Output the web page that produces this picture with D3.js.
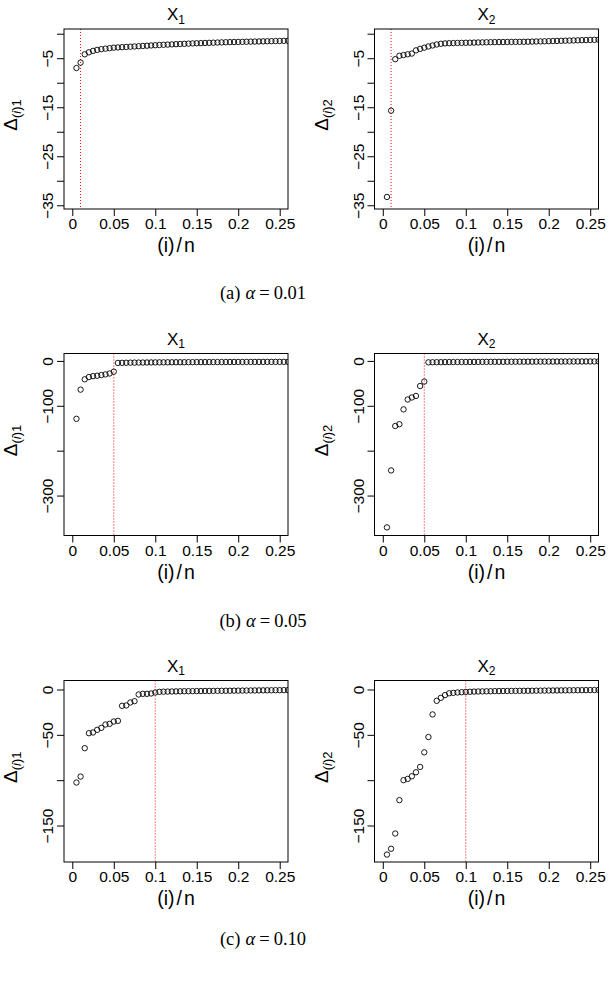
<!DOCTYPE html>
<html>
<head>
<meta charset="utf-8">
<script src="https://cdn.jsdelivr.net/npm/d3@7"></script>
<style>
  body { margin: 0; background: #fff; }
  svg { display: block; font-family: "Liberation Sans", Arial, Helvetica, sans-serif; }
</style>
</head>
<body>
<script>
// ---- data ----
var n = 200;
var ranks = d3.range(1, 53);            // (i) = 1..52, plotted at (i)/n
var xLim = [0, 0.25];
var xTicks = [0, 0.05, 0.1, 0.15, 0.2, 0.25];
var xTickLabels = ['0', '0.05', '0.1', '0.15', '0.2', '0.25'];

var alphas = [0.01, 0.05, 0.10];
var captionLetters = ['a', 'b', 'c'];
var alphaLabels = ['0.01', '0.05', '0.10'];
var varNames = ['1', '2'];

var yLims = [[-34.4, -0.4], [-374, 1.5], [-182.8, 2.5]];
var yTicks = [
  [0, -5, -10, -15, -20, -25, -30, -35],
  [0, -100, -200, -300],
  [0, -50, -100, -150]
];
var yTickLabelled = [
  [-5, -15, -25, -35],
  [0, -100, -300],
  [0, -50, -150]
];

// alpha = 0.01
var deltaA1 = [-7.0, -5.9, -4.2, -3.8, -3.5, -3.3, -3.15, -3.05, -2.95, -2.85,
  -2.8, -2.75, -2.7, -2.65, -2.6, -2.55, -2.5, -2.45, -2.4, -2.35,
  -2.3, -2.26, -2.22, -2.18, -2.14, -2.1, -2.06, -2.02, -1.98, -1.95,
  -1.92, -1.89, -1.86, -1.83, -1.8, -1.77, -1.74, -1.72, -1.7, -1.68,
  -1.66, -1.64, -1.62, -1.6, -1.58, -1.56, -1.54, -1.52, -1.5, -1.48,
  -1.46, -1.44];
var deltaA2 = [-33.3, -15.7, -5.2, -4.5, -4.35, -4.2, -4.05, -3.4, -3.1, -2.85,
  -2.6, -2.4, -2.2, -2.05, -1.98, -1.94, -1.91, -1.89, -1.87, -1.85,
  -1.83, -1.81, -1.79, -1.77, -1.75, -1.73, -1.72, -1.71, -1.7, -1.69,
  -1.68, -1.67, -1.66, -1.65, -1.63, -1.61, -1.59, -1.57, -1.55, -1.52,
  -1.5, -1.47, -1.45, -1.42, -1.4, -1.37, -1.35, -1.32, -1.3, -1.27,
  -1.25, -1.22];

// alpha = 0.05
var deltaB1 = [-129, -64, -41, -36, -34, -33, -31.5, -30, -28, -24,
  -4.5, -4.3, -4.1, -3.9, -3.8, -3.7, -3.6, -3.5, -3.4, -3.3,
  -3.2, -3.15, -3.1, -3.05, -3.0, -2.95, -2.9, -2.85, -2.8, -2.75,
  -2.7, -2.66, -2.62, -2.58, -2.54, -2.5, -2.47, -2.44, -2.41, -2.38,
  -2.35, -2.32, -2.29, -2.26, -2.23, -2.2, -2.18, -2.16, -2.14, -2.12,
  -2.1, -2.08];
var deltaB2 = [-371, -244, -145, -141, -108, -86, -81.5, -78, -56, -46,
  -3.2, -3.0, -2.9, -2.8, -2.7, -2.6, -2.5, -2.45, -2.4, -2.35,
  -2.3, -2.25, -2.2, -2.15, -2.1, -2.05, -2.0, -1.96, -1.92, -1.88,
  -1.84, -1.8, -1.76, -1.72, -1.68, -1.64, -1.6, -1.57, -1.54, -1.51,
  -1.48, -1.45, -1.42, -1.39, -1.36, -1.33, -1.3, -1.28, -1.26, -1.24,
  -1.22, -1.2];

// alpha = 0.10
var deltaC1 = [-102.6, -96, -64.7, -48.2, -47.4, -44.5, -42.3, -38.6, -37.9, -35.3,
  -34.6, -18, -17.6, -14.3, -12.9, -5.5, -4.8, -4.8, -4.4, -3.3,
  -2.6, -2.4, -2.3, -2.2, -2.1, -2.0, -1.9, -1.85, -1.8, -1.75,
  -1.7, -1.65, -1.6, -1.55, -1.5, -1.45, -1.4, -1.35, -1.3, -1.25,
  -1.2, -1.15, -1.1, -1.05, -1.0, -0.95, -0.9, -0.85, -0.8, -0.75,
  -0.7, -0.65];
var deltaC2 = [-182, -175.6, -158.8, -122, -100, -98.6, -95.7, -91.3, -85.4, -69.3,
  -52.4, -27.5, -12.5, -9.2, -6.2, -4.2, -3.7, -3.3, -3.0, -2.7,
  -2.5, -2.3, -2.2, -2.1, -2.0, -1.9, -1.8, -1.75, -1.7, -1.65,
  -1.6, -1.55, -1.5, -1.45, -1.4, -1.35, -1.3, -1.25, -1.2, -1.15,
  -1.1, -1.05, -1.0, -0.95, -0.9, -0.85, -0.8, -0.75, -0.7, -0.65,
  -0.6, -0.55];

var series = [[deltaA1, deltaA2], [deltaB1, deltaB2], [deltaC1, deltaC2]];

// ---- layout ----
var config = {
  width: 611,
  height: 982,
  cols: [[64, 288], [374.5, 598.5]],
  rows: [[29, 209], [353.5, 535.5], [680.5, 862]],
  captionY: [299, 627, 945],
  captionX: 263,
  tick: 7,
  radius: 2.7,
  tickFont: 15.5
};

// R style axis extension (4% each side)
function rExtend(lim) {
  var r = lim[1] - lim[0];
  return [lim[0] - 0.04 * r, lim[1] + 0.04 * r];
}

var minus = function(v) { return String(v).replace('-', '\u2212'); };

var svg = d3.select('body')
  .append('svg')
  .attr('width', config.width)
  .attr('height', config.height);

series.forEach(function(rowSeries, r) {
  var top = config.rows[r][0],
      bottom = config.rows[r][1];

  rowSeries.forEach(function(values, c) {
    var left = config.cols[c][0],
        right = config.cols[c][1];

    var x = d3.scaleLinear().domain(rExtend(xLim)).range([left, right]);
    var y = d3.scaleLinear().domain(rExtend(yLims[r])).range([bottom, top]);

    var g = svg.append('g');
    var clipId = 'clip-' + r + '-' + c;

    g.append('clipPath')
      .attr('id', clipId)
      .append('rect')
      .attr('x', left)
      .attr('y', top)
      .attr('width', right - left)
      .attr('height', bottom - top);

    // Alpha cut-off line
    g.append('line')
      .attr('x1', x(alphas[r]))
      .attr('x2', x(alphas[r]))
      .attr('y1', top)
      .attr('y2', bottom)
      .attr('stroke', '#ff0000')
      .attr('stroke-width', 1)
      .attr('stroke-dasharray', '1,2');

    // Points
    g.append('g')
      .attr('clip-path', 'url(#' + clipId + ')')
      .selectAll('circle')
      .data(values)
      .enter()
      .append('circle')
      .attr('cx', function(d, i) { return x(ranks[i] / n); })
      .attr('cy', function(d) { return y(d); })
      .attr('r', config.radius)
      .attr('fill', 'none')
      .attr('stroke', '#000')
      .attr('stroke-width', 0.9);

    // Box
    g.append('rect')
      .attr('x', left)
      .attr('y', top)
      .attr('width', right - left)
      .attr('height', bottom - top)
      .attr('fill', 'none')
      .attr('stroke', '#000')
      .attr('stroke-width', 1);

    // X axis
    var xAxis = d3.axisBottom(x)
      .tickValues(xTicks)
      .tickSize(config.tick)
      .tickPadding(2)
      .tickFormat(function(d, i) { return xTickLabels[i]; });

    var xg = g.append('g')
      .attr('transform', 'translate(0,' + bottom + ')')
      .call(xAxis);
    xg.select('.domain').remove();
    xg.selectAll('line').attr('stroke', '#000');
    xg.selectAll('text')
      .attr('fill', '#000')
      .attr('font-size', config.tickFont)
      .attr('font-family', '"Liberation Sans", Arial, sans-serif');

    // Y axis
    var yAxis = d3.axisLeft(y)
      .tickValues(yTicks[r])
      .tickSize(config.tick)
      .tickFormat(function(d) {
        return yTickLabelled[r].indexOf(d) > -1 ? minus(d) : '';
      });

    var yg = g.append('g')
      .attr('transform', 'translate(' + left + ',0)')
      .call(yAxis);
    yg.select('.domain').remove();
    yg.selectAll('line').attr('stroke', '#000');
    yg.selectAll('text')
      .attr('fill', '#000')
      .attr('font-size', config.tickFont)
      .attr('font-family', '"Liberation Sans", Arial, sans-serif')
      .attr('x', null)
      .attr('dy', null)
      .attr('text-anchor', 'middle')
      .attr('transform', 'translate(-11,0) rotate(-90)');

    // Panel title X_j
    var title = g.append('text')
      .attr('x', (left + right) / 2)
      .attr('y', top - 9)
      .attr('text-anchor', 'middle')
      .attr('font-size', 17);
    title.append('tspan').text('X');
    title.append('tspan').attr('font-size', 12).attr('dy', 3.5).text(varNames[c]);

    // X label (i)/n
    var xlab = g.append('text')
      .attr('x', (left + right) / 2)
      .attr('y', bottom + 43)
      .attr('text-anchor', 'middle')
      .attr('font-size', 19.5);
    xlab.append('tspan').text('(i)');
    xlab.append('tspan').attr('dx', 2).text('/');
    xlab.append('tspan').attr('dx', 2).text('n');

    // Y label Delta_(i)j
    var ylab = g.append('text')
      .attr('transform', 'translate(' + (left - 47) + ',' + ((top + bottom) / 2 - 4) + ') rotate(-90)')
      .attr('text-anchor', 'middle')
      .attr('font-size', 19);
    ylab.append('tspan').text('\u0394');
    var sub = ylab.append('tspan').attr('font-size', 13).attr('dy', 4);
    sub.append('tspan').text('(');
    sub.append('tspan').attr('font-style', 'italic').text('i');
    sub.append('tspan').text(')' + varNames[c]);
  });

  // Caption
  var cap = svg.append('text')
    .attr('x', config.captionX)
    .attr('y', config.captionY[r])
    .attr('text-anchor', 'middle')
    .attr('font-family', '"Liberation Serif", "Times New Roman", serif')
    .attr('font-size', 18.5)
    .attr('fill', '#000');
  cap.append('tspan').text('(' + captionLetters[r] + ')');
  cap.append('tspan').attr('dx', 5).attr('font-style', 'italic').text('\u03b1');
  cap.append('tspan').attr('dx', 4).text('=');
  cap.append('tspan').attr('dx', 4).text(alphaLabels[r]);
});
</script>
</body>
</html>
